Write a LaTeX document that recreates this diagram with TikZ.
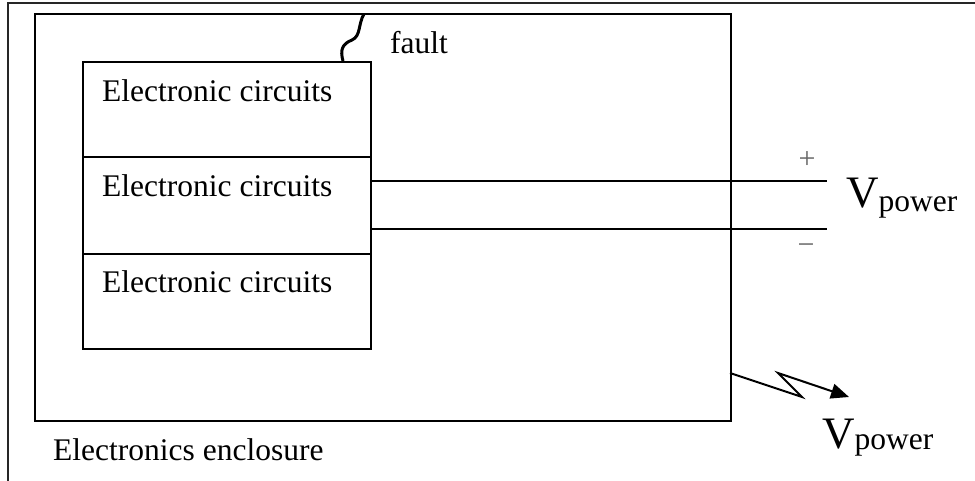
\documentclass[tikz,border=0pt]{standalone}
\usepackage{fontspec}
\setmainfont{Liberation Serif}
\usetikzlibrary{arrows.meta,calc}
\begin{document}
\begin{tikzpicture}[x=1pt,y=-1pt,
  box/.style={draw,line width=2pt,inner sep=0pt,anchor=north west},
  lbl/.style={font=\fontsize{31.5}{36}\selectfont,inner sep=0pt,anchor=base west},
  bigv/.style={font=\fontsize{45}{50}\selectfont,inner sep=0pt,anchor=base west},
  sgn/.style={font=\fontsize{30}{32}\selectfont,text=black!60,inner sep=0pt},
  wire/.style={line width=2pt}]
\useasboundingbox (0,0) rectangle (975,481);
% outer frame
\coordinate (fl) at (8,481);
\coordinate (ftl) at (8,3);
\coordinate (fr) at (975,3);
\draw[line width=2.5pt,black!85] (fl) -- (ftl) -- (fr);
% enclosure
\node[box,minimum width=696pt,minimum height=407pt] (enc) at (34,13) {};
% circuits boxes
\node[box,minimum width=288pt,minimum height=95pt] (c1) at (82,61) {};
\node[box,minimum width=288pt,minimum height=97pt] (c2) at (82,156) {};
\node[box,minimum width=288pt,minimum height=95pt] (c3) at (82,253) {};
\node[lbl] (t1) at (102,102) {Electronic circuits};
\node[lbl] (t2) at (102,197) {Electronic circuits};
\node[lbl] (t3) at (102,292) {Electronic circuits};
% fault
\coordinate (fa) at (343,61);
\coordinate (fb) at (364,14);
\draw[line width=3pt] (fa) .. controls (340,50) and (342,44) .. (352,40) .. controls (361,36) and (358,24) .. (fb);
\node[lbl] (fault) at (390,54) {fault};
% power wires
\coordinate (w1s) at (370,181);
\coordinate (w1e) at (827,181);
\coordinate (w2s) at (370,229);
\coordinate (w2e) at (827,229);
\draw[wire] (w1s) -- (w1e);
\draw[wire] (w2s) -- (w2e);
\node[sgn] (plus) at (807,160) {+};
\node[sgn] (minus) at (806,249) {\textminus};
\node[bigv] (v1) at (846,208) {V\raisebox{-4pt}{\fontsize{31.5}{36}\selectfont power}};
% radiated
\coordinate (r0) at (730,373);
\coordinate (r1) at (802,397);
\coordinate (r2) at (778,373);
\coordinate (r3) at (849,397);
\draw[wire,-{Triangle[length=18pt,width=15pt]}] (r0) -- (r1) -- (r2) -- (r3);
\node[bigv] (v2) at (822,448) {V\raisebox{-1pt}{\fontsize{31.5}{36}\selectfont power}};
\node[lbl] (encl) at (53,460) {Electronics enclosure};
\end{tikzpicture}
\end{document}
